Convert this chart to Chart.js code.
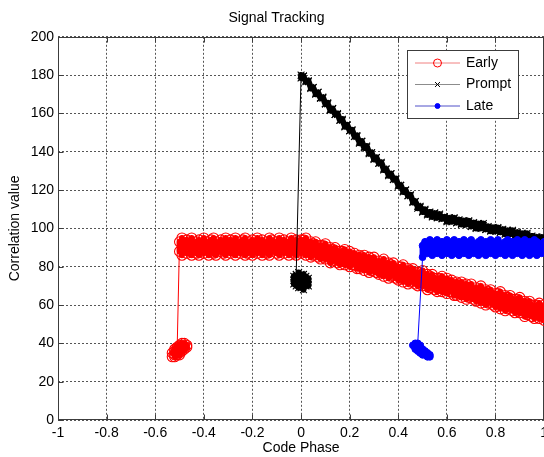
<!DOCTYPE html>
<html>
<head>
<meta charset="utf-8">
<script src="https://cdn.jsdelivr.net/npm/chart.js@4/dist/chart.umd.min.js"></script>
<style>
  html, body { margin: 0; padding: 0; background: #fff; overflow: hidden; }
  #wrap { width: 553px; height: 457px; }
</style>
</head>
<body>
<div id="wrap"><canvas id="chart" width="553" height="457"></canvas></div>
<script>
// code phase samples of the tracked part (-0.5 .. 1.0)
const phaseGrid = [
  -0.50,-0.49,-0.48,-0.47,-0.46,-0.45,-0.44,-0.43,-0.42,-0.41,
  -0.40,-0.39,-0.38,-0.37,-0.36,-0.35,-0.34,-0.33,-0.32,-0.31,
  -0.30,-0.29,-0.28,-0.27,-0.26,-0.25,-0.24,-0.23,-0.22,-0.21,
  -0.20,-0.19,-0.18,-0.17,-0.16,-0.15,-0.14,-0.13,-0.12,-0.11,
  -0.10,-0.09,-0.08,-0.07,-0.06,-0.05,-0.04,-0.03,-0.02,-0.01,
  0.00,0.01,0.02,0.03,0.04,0.05,0.06,0.07,0.08,0.09,
  0.10,0.11,0.12,0.13,0.14,0.15,0.16,0.17,0.18,0.19,
  0.20,0.21,0.22,0.23,0.24,0.25,0.26,0.27,0.28,0.29,
  0.30,0.31,0.32,0.33,0.34,0.35,0.36,0.37,0.38,0.39,
  0.40,0.41,0.42,0.43,0.44,0.45,0.46,0.47,0.48,0.49,
  0.50,0.51,0.52,0.53,0.54,0.55,0.56,0.57,0.58,0.59,
  0.60,0.61,0.62,0.63,0.64,0.65,0.66,0.67,0.68,0.69,
  0.70,0.71,0.72,0.73,0.74,0.75,0.76,0.77,0.78,0.79,
  0.80,0.81,0.82,0.83,0.84,0.85,0.86,0.87,0.88,0.89,
  0.90,0.91,0.92,0.93,0.94,0.95,0.96,0.97,0.98,0.99,
  1.00
];

// acquisition clusters before the loop locks
const earlyClusterX = [-0.53,-0.52,-0.52,-0.51,-0.51,-0.50,-0.50,-0.49,-0.49,-0.48,-0.48,-0.47,-0.52,-0.51,-0.50,-0.49,-0.48,-0.47,-0.53,-0.52,-0.51,-0.50,-0.49,-0.50,-0.51];
const earlyClusterY = [33,34,36,35,37,36,38,37,39,38,40,39,33,34,35,36,37,38,35,37,38,39,40,34,36];
const promptClusterX = [0.00,0.01,-0.01,0.02,-0.02,0.01,-0.01,0.03,-0.03,0.00,0.00,0.02,-0.02,0.01,-0.01,0.02,-0.02,0.03,-0.03,0.00,0.01,-0.01,0.00,0.02,-0.02,0.01,-0.01,0.03,-0.03,-0.02];
const promptClusterY = [72,74,71,73,72,70,75,72,73,76,69,70,75,76,69,75,70,74,71,74,72,73,70,72,74,68,77,70,75,76];
const lateClusterX = [0.53,0.52,0.52,0.51,0.51,0.50,0.50,0.49,0.49,0.48,0.48,0.47,0.47,0.53,0.52,0.50,0.49,0.48,0.47,0.46,0.49,0.51,0.50,0.48,0.48];
const lateClusterY = [33,33,35,34,36,35,37,36,38,37,39,38,40,34,34,34,35,36,37,39,39,35,36,38,40];

// two readings per phase sample (upper / lower edge of each band)
// Early: phaseGrid from -0.50
const earlyValuesA = [
  93,95,92,94,93,95,92,93,94,92, 95,93,92,94,95,93,92,94,93,95,
  92,94,93,95,92,93,94,95,92,93, 94,92,95,93,94,92,93,95,94,92,
  93,95,92,94,93,92,95,93,94,93, 94,
  94,95,92,93,92,93,91,91,91,92, 89,90,89,90,88,88,88,89,86,88,
  86,87,85,86,85,86,84,85,83,85, 82,83,82,84,81,82,81,82,79,80,
  80,81,78,79,78,79,77,77,77,78, 75,76,75,76,74,74,74,75,72,74,
  72,73,71,72,71,72,70,71,69,71, 68,69,68,70,67,68,67,68,65,66,
  66,67,64,65,64,65,63,63,63,64, 61,62,61,62,60,60,60,61,58,60
];
const earlyValuesB = [
  88,86,89,87,88,86,89,87,86,88, 87,89,86,88,87,86,89,88,87,86,
  89,87,88,86,89,87,88,86,87,89, 86,88,87,89,86,88,87,86,88,89,
  87,86,88,87,89,86,88,87,86,88, 87,
  88,86,88,85,86,87,85,84,85,84, 85,82,83,84,82,81,83,81,82,80,
  81,81,79,79,80,78,80,77,78,79, 77,76,77,75,77,74,75,76,74,73,
  74,72,74,71,72,73,71,70,71,70, 71,68,69,70,68,67,69,67,68,66,
  67,67,65,65,66,64,66,63,64,65, 63,62,63,61,63,60,61,62,60,59,
  60,58,60,57,58,59,57,56,57,56, 57,54,55,56,54,53,55,53,54,52
];
// Prompt: phaseGrid from 0.00
const promptValuesA = [
  180,179.5,176.5,176.5,173.5,173.5,170.5,171,168,168,
  165,165.5,162,162.5,159.5,159.5,156.5,157,153.5,154,
  151,151,148,148.5,145,145.5,142,142.5,139.5,139.5,
  136.5,137,134,134,131,131,128,128.5,125.5,125.5,
  122.5,122.5,119.5,120,117,117,114,114,111.5,111,
  109,109.5,107.5,108.5,106.5,108,105.5,107,105,106,
  104,105.5,103.5,105,103,104.5,102.5,104,102,103.5,
  101,103,100.5,102.5,100,101.5,99.5,101,99,100.5,
  98.5,100,98,99.5,97.5,99,97,98.5,96,98,
  95.5,97,95,96.5,94.5,96,94,95.5,93.5,94.5,
  93.5
];
const promptValuesB = [
  178.5,179.5,177,177,173,173.5,170,171,168,168.5,
  165,165,161.5,162.5,159.5,160,156.5,156.5,153,154,
  151,151.5,148,148,144.5,145.5,142.5,143,139,139.5,
  136,137,134,134.5,130.5,131,127.5,128.5,125.5,126,
  122,122.5,119,120,117,117.5,113.5,114,110.5,111.5,
  108.5,110,107,108,106,108,106,107.5,105,106,
  103.5,105.5,104,105.5,103,104,102,104,102.5,104,
  101,102.5,100,102.5,100.5,102.5,99.5,100.5,98.5,100.5,
  99,100.5,98,99,97,99,97,99,96,97.5,
  95,97.5,95.5,97.5,94.5,95.5,93.5,95.5,94,95.5,
  93
];
// Late: phaseGrid from 0.50
const lateValuesA = [
  85,93,92,94,91,93,94,92,93,92, 94,91,93,94,92,93,91,94,92,93,
  94,92,91,93,94,92,93,91,94,92, 93,94,92,91,93,94,92,93,91,94,
  92,93,94,91,93,92,94,93,91,92, 93
];
const lateValuesB = [
  91,88,87,89,86,88,87,89,86,88, 87,89,86,88,87,86,89,87,88,86,
  89,87,88,86,87,89,86,88,87,89, 86,88,87,89,86,87,88,86,89,87,
  88,86,87,89,86,88,87,86,89,87, 88
];

const xTicks = [-1,-0.8,-0.6,-0.4,-0.2,0,0.2,0.4,0.6,0.8,1];
const yTicks = [0,20,40,60,80,100,120,140,160,180,200];

const FONT = "'Liberation Sans', Arial, Helvetica, sans-serif";
Chart.defaults.font.family = FONT;
Chart.defaults.font.size = 14;
Chart.defaults.color = '#111';

const pts = (xs, ys) => xs.map((x, i) => ({x, y: ys[i]}));
// both readings of one phase sample, one after the other
const band = (xs, a, b) => xs.flatMap((x, i) => [{x, y: a[i]}, {x, y: b[i]}]);

const earlyData = pts(earlyClusterX, earlyClusterY).concat(band(phaseGrid, earlyValuesA, earlyValuesB));
const promptData = pts(promptClusterX, promptClusterY).concat(band(phaseGrid.slice(50), promptValuesA, promptValuesB));
const lateData = pts(lateClusterX, lateClusterY).concat(band(phaseGrid.slice(100), lateValuesA, lateValuesB));

// dense samples overlap into a solid stroke; the lock-in jumps stay thin
const denseWidth = w => c => Math.abs(c.p1.parsed.y - c.p0.parsed.y) > 20 ? 1 : w;

// matlab style box with inward ticks
const axesBox = {
  id: 'axesBox',
  beforeDatasetsDraw(chart) {
    const {ctx, chartArea: a, scales} = chart;
    const l = Math.round(a.left) + 0.5, t = Math.round(a.top) + 0.5;
    const r = Math.round(a.right) - 0.5, b = Math.round(a.bottom) - 0.5;
    ctx.save();
    ctx.strokeStyle = '#3c3c3c';
    ctx.lineWidth = 1;
    ctx.strokeRect(l, t, r - l, b - t);
    ctx.beginPath();
    xTicks.forEach(v => {
      const px = Math.round(scales.x.getPixelForValue(v)) + 0.5;
      ctx.moveTo(px, b); ctx.lineTo(px, b - 5);
      ctx.moveTo(px, t); ctx.lineTo(px, t + 5);
    });
    yTicks.forEach(v => {
      const py = Math.round(scales.y.getPixelForValue(v)) + 0.5;
      ctx.moveTo(l, py); ctx.lineTo(l + 5, py);
    });
    ctx.stroke();
    ctx.restore();
  }
};

// legend box inside the plot, top right
const legendBox = {
  id: 'legendBox',
  afterDraw(chart) {
    const {ctx, chartArea: a} = chart;
    const x0 = Math.round(a.right) - 137, y0 = Math.round(a.top) + 13;
    const w = 111, h = 68;
    ctx.save();
    ctx.fillStyle = '#fff';
    ctx.fillRect(x0, y0, w, h);
    ctx.strokeStyle = '#3c3c3c';
    ctx.lineWidth = 1;
    ctx.strokeRect(x0 + 0.5, y0 + 0.5, w, h);
    chart.data.datasets.forEach((ds, i) => {
      const y = y0 + 13 + i * 21.5;
      ctx.strokeStyle = ds.legendLine;
      ctx.lineWidth = 1;
      ctx.beginPath();
      ctx.moveTo(x0 + 8, y);
      ctx.lineTo(x0 + 53, y);
      ctx.stroke();
      ctx.fillStyle = ds.pointBackgroundColor;
      ctx.strokeStyle = ds.pointBorderColor;
      Chart.helpers.drawPoint(ctx, {
        pointStyle: ds.pointStyle, radius: ds.legendRadius, rotation: 0, borderWidth: 1
      }, x0 + 30.5, y);
      ctx.fillStyle = '#000';
      ctx.font = '14px ' + FONT;
      ctx.textAlign = 'left';
      ctx.textBaseline = 'middle';
      ctx.fillText(ds.label, x0 + 59, y);
    });
    ctx.restore();
  }
};

new Chart(document.getElementById('chart'), {
  type: 'scatter',
  data: {
    datasets: [
      {
        label: 'Early', data: earlyData, showLine: true, order: 3,
        borderColor: '#ff0000', borderWidth: 1, borderJoinStyle: 'round',
        segment: { borderWidth: denseWidth(6) },
        pointStyle: 'circle', pointRadius: 5, pointBorderWidth: 1.1,
        pointBorderColor: '#ff0000', pointBackgroundColor: 'rgba(0,0,0,0)',
        legendLine: '#f08080', legendRadius: 4
      },
      {
        label: 'Prompt', data: promptData, showLine: true, order: 2,
        borderColor: '#000', borderWidth: 1, borderJoinStyle: 'round',
        segment: { borderWidth: denseWidth(6) },
        pointStyle: 'crossRot', pointRadius: 4.8, pointBorderWidth: 1.1,
        pointBorderColor: '#000', pointBackgroundColor: '#000',
        legendLine: '#8c8c8c', legendRadius: 3.5
      },
      {
        label: 'Late', data: lateData, showLine: true, order: 1,
        borderColor: '#0000ff', borderWidth: 1, borderJoinStyle: 'round',
        segment: { borderWidth: denseWidth(6) },
        pointStyle: 'circle', pointRadius: 3.4, pointBorderWidth: 1,
        pointBorderColor: '#0000ff', pointBackgroundColor: '#0000ff',
        legendLine: '#5050c8', legendRadius: 2.5
      }
    ]
  },
  options: {
    responsive: false,
    animation: false,
    events: [],
    layout: { padding: 0 },
    plugins: {
      legend: { display: false },
      tooltip: { enabled: false },
      title: {
        display: true, text: 'Signal Tracking', color: '#000',
        font: { size: 14, weight: 'normal' },
        padding: { top: 10, bottom: 10 }
      }
    },
    scales: {
      x: {
        type: 'linear', min: -1, max: 1,
        afterFit: s => { s.height = 37; },
        afterBuildTicks: s => { s.ticks = xTicks.map(v => ({value: v})); },
        ticks: {
          padding: 5, maxRotation: 0, autoSkip: false, color: '#000',
          callback: v => String(Math.round(v * 10) / 10)
        },
        grid: { drawTicks: false, color: '#555', lineWidth: 1 },
        border: { display: false, dash: [2, 2] },
        title: { display: true, text: 'Code Phase', color: '#000', font: { size: 14 }, padding: { top: 0, bottom: 0 } }
      },
      y: {
        type: 'linear', min: 0, max: 200,
        afterFit: s => { s.width = 58; },
        afterBuildTicks: s => { s.ticks = yTicks.map(v => ({value: v})); },
        ticks: { padding: 4, color: '#000' },
        grid: { drawTicks: false, color: '#555', lineWidth: 1 },
        border: { display: false, dash: [2, 2] },
        title: { display: true, text: 'Correlation value', color: '#000', font: { size: 14 }, padding: { top: 7, bottom: 0 } }
      }
    }
  },
  plugins: [axesBox, legendBox]
});
</script>
</body>
</html>
